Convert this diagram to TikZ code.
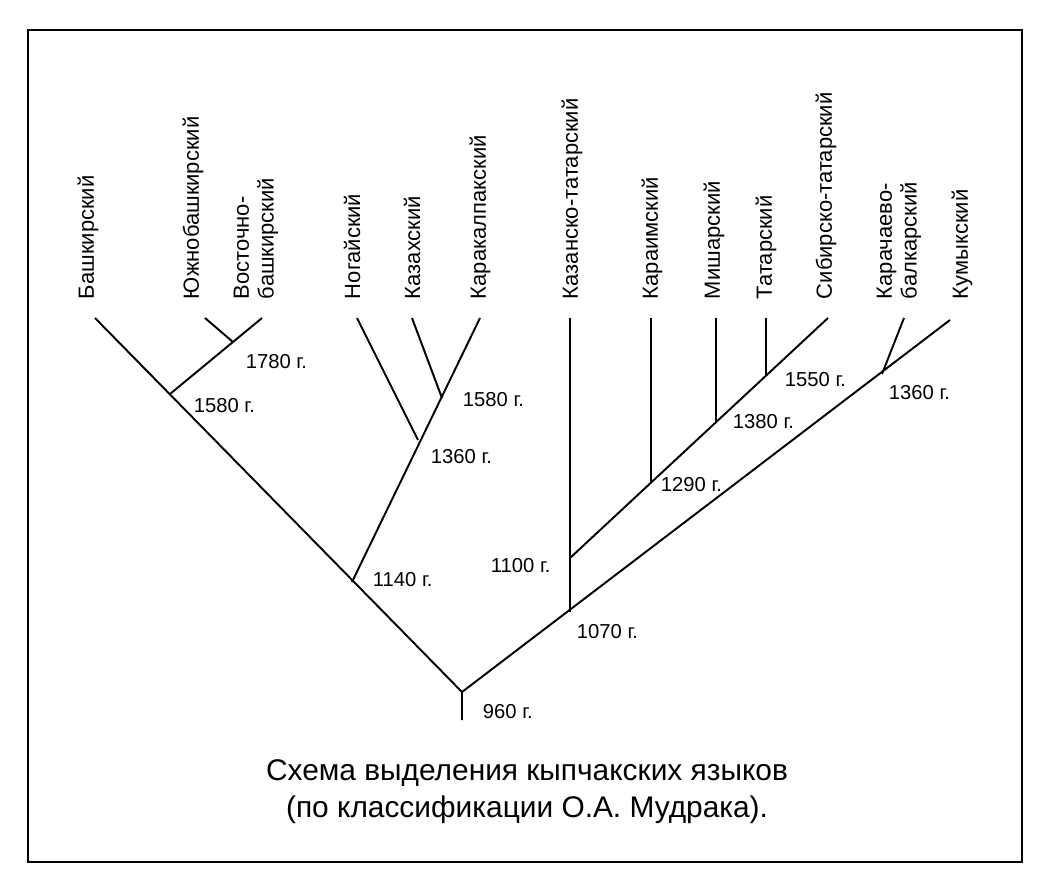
\documentclass[tikz,border=0pt]{standalone}
\usepackage{fontspec}
\setmainfont{Liberation Sans}
\begin{document}
\begin{tikzpicture}[x=0.02cm,y=-0.02cm,line width=1.1pt,
  lang/.style={rotate=90,anchor=west,align=left,inner sep=0pt,font=\fontsize{12.5}{14}\selectfont},
  yr/.style={anchor=west,inner sep=0pt,font=\fontsize{11.5}{13}\selectfont}]
\useasboundingbox (0,0) rectangle (1056,880);
\draw[line width=1pt] (28,30) rectangle (1022,862);
% end points
\coordinate (root) at (462,692); \coordinate (stem) at (462,720);
\coordinate (bash) at (95,318); \coordinate (kum) at (950,320);
\coordinate (n1580a) at (170,394); \coordinate (vost) at (262,318);
\coordinate (n1780) at (233,342); \coordinate (yuzh) at (205,318);
\coordinate (n1140) at (352,582); \coordinate (kkalp) at (480,318);
\coordinate (n1360a) at (418,440); \coordinate (nog) at (357,318);
\coordinate (n1580b) at (442,398); \coordinate (kaz) at (412,318);
\coordinate (n1070) at (570,612); \coordinate (kaztat) at (570,318);
\coordinate (n1100) at (570,558); \coordinate (sibtat) at (828,318);
\coordinate (n1290) at (651,483); \coordinate (kar) at (651,318);
\coordinate (n1380) at (716,423); \coordinate (mish) at (716,318);
\coordinate (n1550) at (766,376); \coordinate (tat) at (766,318);
\coordinate (n1360b) at (882,374); \coordinate (kb) at (904,318);
\draw (stem) -- (root) -- (bash);
\draw (root) -- (kum);
\draw (n1580a) -- (vost); \draw (yuzh) -- (n1780);
\draw (n1140) -- (kkalp); \draw (n1360a) -- (nog); \draw (n1580b) -- (kaz);
\draw (n1070) -- (kaztat); \draw (n1100) -- (sibtat);
\draw (n1290) -- (kar); \draw (n1380) -- (mish); \draw (n1550) -- (tat);
\draw (n1360b) -- (kb);
% languages
\node[lang] (l1) at (88,300) {Башкирский};
\node[lang] (l2) at (193,300) {Южнобашкирский};
\node[lang] (l3) at (256,300) {Восточно-\\башкирский};
\node[lang] (l4) at (352,300) {Ногайский};
\node[lang] (l5) at (412,300) {Казахский};
\node[lang] (l6) at (480,300) {Каракалпакский};
\node[lang] (l7) at (572,300) {Казанско-татарский};
\node[lang] (l8) at (652,300) {Караимский};
\node[lang] (l9) at (714,300) {Мишарский};
\node[lang] (l10) at (766,300) {Татарский};
\node[lang] (l11) at (826,300) {Сибирско-татарский};
\node[lang] (l12) at (899,300) {Карачаево-\\балкарский};
\node[lang] (l13) at (962,300) {Кумыкский};
% years
\node[yr] (y1) at (245,362) {1780 г.};
\node[yr] (y2) at (193,406) {1580 г.};
\node[yr] (y3) at (462,400) {1580 г.};
\node[yr] (y4) at (430,457) {1360 г.};
\node[yr] (y5) at (372,580) {1140 г.};
\node[yr] (y6) at (490,566) {1100 г.};
\node[yr] (y7) at (576,632) {1070 г.};
\node[yr] (y8) at (482,712) {960 г.};
\node[yr] (y9) at (660,485) {1290 г.};
\node[yr] (y10) at (732,422) {1380 г.};
\node[yr] (y11) at (784,380) {1550 г.};
\node[yr] (y12) at (888,393) {1360 г.};
\node[align=center,font=\fontsize{17}{21}\selectfont] (cap) at (527,792) {Схема выделения кыпчакских языков\\(по классификации О.А. Мудрака).};
\end{tikzpicture}
\end{document}
